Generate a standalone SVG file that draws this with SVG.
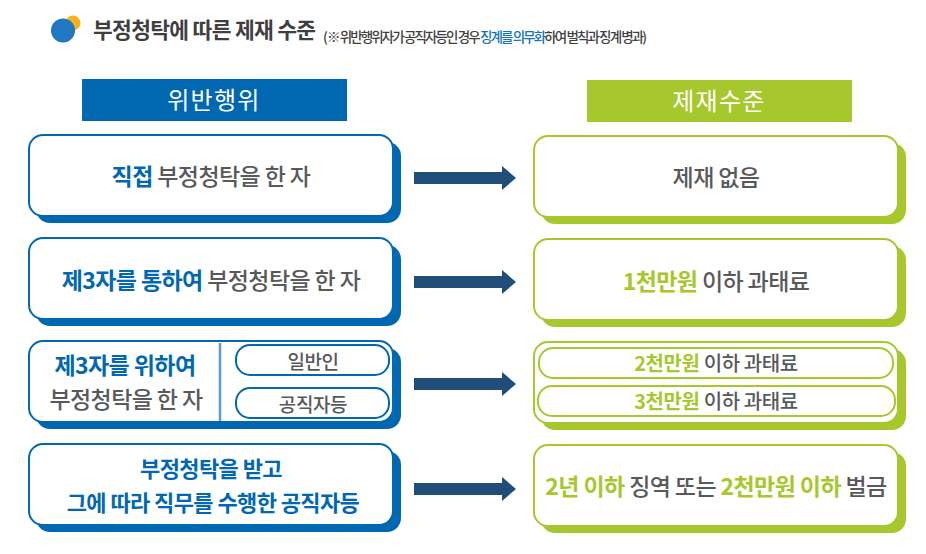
<svg xmlns="http://www.w3.org/2000/svg" width="926" height="554" viewBox="0 0 926 554">
<style>
text{font-family:"Noto Sans CJK KR","Noto Sans",sans-serif;text-anchor:middle;fill:#58595b;font-weight:500}
.t{font-size:23px;letter-spacing:-.6px}
.s{font-size:19px;letter-spacing:-.4px}
.h{font-size:24px;fill:#fff;font-weight:400;letter-spacing:1.3px}
.fb{fill:#fff;stroke:#0068b0;stroke-width:2}
.fg{fill:#fff;stroke:#a7c82c;stroke-width:2}
.sb{fill:#0068b0}.sg{fill:#a7c82c}
.ar{fill:#1f4e79}
tspan.bl{fill:#0068b0;font-weight:700}
tspan.gr{fill:#a7c82c;font-weight:700}
</style>
<g id="title">
<circle cx="73" cy="23" r="7.5" fill="#fbb21a"/>
<circle cx="63" cy="30.500" r="12" fill="#1f78c1"/>
<text x="93" y="38" style="text-anchor:start;font-size:21.500px;letter-spacing:-.7px;fill:#3f3f3f;font-weight:700">부정청탁에 따른 제재 수준</text>
<text x="323" y="42" style="text-anchor:start;font-size:13.500px;letter-spacing:-1.9px;fill:#3f3f3f">( ※ 위반행위자가 공직자등인 경우 <tspan style="fill:#0f75bc">징계를 의무화</tspan>하여 벌칙과 징계 병과)</text>
</g>
<g id="header-left"><rect x="82" y="79" width="265" height="42" fill="#0068b0"/><text class="h" x="214" y="109">위반행위</text></g>
<g id="header-right"><rect x="587" y="80" width="265" height="42" fill="#a7c82c"/><text class="h" x="719" y="110">제재수준</text></g>
<g id="n1"><rect class="sb" x="36" y="142" width="365" height="81" rx="14"/><rect class="fb" x="29" y="135" width="364" height="81" rx="14"/><text class="t" x="211" y="185"><tspan class="bl">직접</tspan> 부정청탁을 한 자</text></g>
<g id="n2"><rect class="sb" x="36" y="245" width="365" height="81" rx="14"/><rect class="fb" x="29" y="238" width="364" height="81" rx="14"/><text class="t" x="211" y="289"><tspan class="bl">제3자를 통하여</tspan> 부정청탁을 한 자</text></g>
<g id="n3"><rect class="sb" x="36" y="348" width="365" height="81" rx="14"/><rect class="fb" x="29" y="341" width="364" height="81" rx="14"/>
<line x1="220" y1="343" x2="220" y2="421" stroke="#5b9bd5" stroke-width="2.500"/>
<text class="t" x="125" y="374"><tspan class="bl">제3자를 위하여</tspan></text>
<text class="t" x="126" y="408">부정청탁을 한 자</text>
<rect class="fb" x="236" y="345" width="153" height="30" rx="14"/><text class="s" x="313" y="369">일반인</text>
<rect class="fb" x="236" y="388" width="153" height="30" rx="14"/><text class="s" x="313" y="412">공직자등</text></g>
<g id="n4"><rect class="sb" x="36" y="451" width="365" height="81" rx="14"/><rect class="fb" x="29" y="444" width="364" height="81" rx="14"/><text class="t" x="211" y="477" style="font-size:22px"><tspan class="bl">부정청탁을 받고</tspan></text><text class="t" x="213" y="511" style="font-size:22px"><tspan class="bl">그에 따라 직무를 수행한 공직자등</tspan></text></g>
<g id="r1"><rect class="sg" x="541" y="143" width="365" height="81" rx="14"/><rect class="fg" x="534" y="136" width="364" height="81" rx="14"/><text class="t" x="716" y="186">제재 없음</text></g>
<g id="r2"><rect class="sg" x="541" y="246" width="365" height="81" rx="14"/><rect class="fg" x="534" y="239" width="364" height="81" rx="14"/><text class="t" x="716" y="290"><tspan class="gr">1천만원</tspan> 이하 과태료</text></g>
<g id="r3"><rect class="sg" x="541" y="349" width="365" height="81" rx="14"/><rect class="fg" x="534" y="342" width="364" height="81" rx="14"/>
<rect class="fg" x="539" y="348" width="354" height="30" rx="14"/><text class="s" x="716" y="371" style="font-size:20px"><tspan class="gr">2천만원</tspan> 이하 과태료</text>
<rect class="fg" x="538" y="386" width="357" height="30" rx="14"/><text class="s" x="716" y="409" style="font-size:20px"><tspan class="gr">3천만원</tspan> 이하 과태료</text></g>
<g id="r4"><rect class="sg" x="541" y="452" width="365" height="81" rx="14"/><rect class="fg" x="534" y="445" width="364" height="81" rx="14"/><text class="t" x="716" y="495"><tspan class="gr">2년 이하</tspan> 징역 또는 <tspan class="gr">2천만원 이하</tspan> 벌금</text></g>
<g id="connectors">
<polygon class="ar" points="414,172 502,172 502,166 516,178 502,190 502,184 414,184"/>
<polygon class="ar" points="414,276 502,276 502,270 516,282 502,294 502,288 414,288"/>
<polygon class="ar" points="414,378 502,378 502,372 516,384 502,396 502,390 414,390"/>
<polygon class="ar" points="414,483 502,483 502,477 516,489 502,501 502,495 414,495"/>
</g>
</svg>
